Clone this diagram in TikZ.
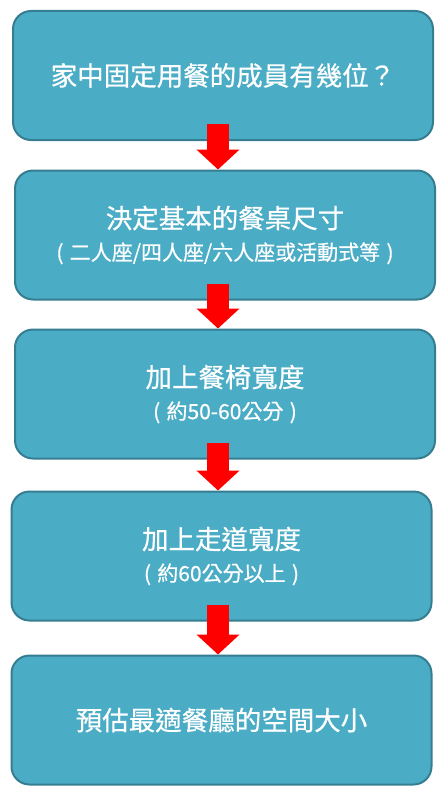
\documentclass[tikz,border=0pt]{standalone}
\usepackage{fontspec}
\setmainfont{Noto Sans CJK TC}[FakeBold=0.6]
\usepackage{xcolor}
\definecolor{stepfill}{HTML}{4BACC6}
\definecolor{stepline}{HTML}{357D91}
\definecolor{arrowred}{HTML}{FF0000}
\usepackage{tikz}
\usetikzlibrary{arrows.meta,calc}

\begin{document}
\begin{tikzpicture}[x=1pt, y=1pt,
    stepbox/.style={draw=stepline, fill=stepfill, line width=2pt, rounded corners=18pt,
      minimum width=420pt, minimum height=129pt, text=white, align=center,
      font=\fontsize{26.5}{32}\selectfont},
    flowarrow/.style={arrowred, line width=22pt, -{Triangle[width=42pt, length=20pt]}}]
  \useasboundingbox (0,0) rectangle (443,-792);
  % Steps (pixel coordinates of the reference)
  \node[stepbox] (b1) at (223,-75.5) {家中固定用餐的成員有幾位？};
  \node[stepbox] (b2) at (225,-235) {決定基本的餐桌尺寸\\ \fontsize{21}{32}\selectfont (\hspace{0.3em}二人座/四人座/六人座或活動式等\hspace{0.3em})};
  \node[stepbox] (b3) at (225,-394) {加上餐椅寬度\\ \fontsize{21}{32}\selectfont (\hspace{0.3em}約50-60公分\hspace{0.3em})};
  \node[stepbox] (b4) at (221.5,-556) {加上走道寬度\\ \fontsize{21}{32}\selectfont (\hspace{0.3em}約60公分以上\hspace{0.3em})};
  \node[stepbox] (b5) at (221.5,-720) {預估最適餐廳的空間大小};
  % Arrows
  \coordinate (ax) at (218,0);
  \foreach \a/\b in {b1/b2,b2/b3,b3/b4,b4/b5} {
    \draw[flowarrow] ($(\a.south -| ax)+(0,17)$) -- (\b.north -| ax);
  }
\end{tikzpicture}
\end{document}
